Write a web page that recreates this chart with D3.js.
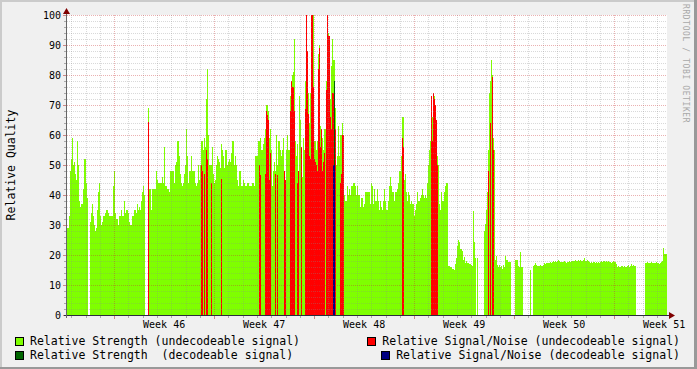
<!DOCTYPE html>
<html><head><meta charset="utf-8">
<script src="https://cdn.jsdelivr.net/npm/d3@7"></script>
<style>body{margin:0;background:#F0F0F0}svg{display:block}text{font-family:"DejaVu Sans Mono",monospace;white-space:pre}</style>
</head><body><svg id="c" width="697" height="369"></svg>
<script>
// ---------------- data ----------------
const weekLabels = ["Week 46","Week 47","Week 48","Week 49","Week 50","Week 51"];
const yTickValues = [0,10,20,30,40,50,60,70,80,90,100];
const spanDays = 42;          // 6 weeks shown
const colDays = 0.07;         // one sample column = 1/600 of the span
const firstWeekStartDay = 3.3; // Monday of week 46, days after the left edge
const strengthUndecodeable = [
29,29,33,48,52,59,50,51,47,45,
58,50,38,36,37,37,42,52,52,44,
39,null,null,31,34,37,33,30,28,29,
35,41,44,33,30,31,33,33,34,35,
35,34,33,33,33,33,43,48,34,32,
32,30,33,33,35,33,33,38,34,35,
35,34,31,30,30,33,33,35,35,34,
37,35,36,35,38,41,43,40,null,null,
null,69,42,42,35,42,42,42,42,48,
45,44,44,44,44,46,44,56,43,43,
42,42,41,48,48,48,48,44,50,51,
58,58,53,47,44,43,44,47,50,62,
53,44,48,48,53,48,48,48,44,43,
44,50,45,50,58,58,55,59,56,72,
82,60,50,50,50,56,47,44,45,50,
53,52,51,49,57,55,53,49,55,55,
50,51,52,51,54,58,58,50,53,50,
45,43,48,48,43,43,45,44,43,43,
44,44,43,43,43,44,44,43,53,53,
53,58,58,59,55,55,57,59,62,70,
70,68,59,62,55,43,48,51,48,60,
50,58,58,55,53,55,59,48,45,55,
60,55,55,73,78,80,81,92,58,53,
57,48,73,65,56,46,59,55,78,100,
88,74,64,74,100,100,100,58,58,55,
58,87,90,63,62,59,55,62,62,78,
100,94,93,72,83,92,85,85,69,50,
53,63,53,60,60,64,60,40,38,38,
43,40,42,40,43,43,44,44,43,40,
43,40,40,36,39,39,36,37,41,41,
41,41,41,37,44,43,37,42,38,38,
42,38,35,38,36,35,38,42,38,35,
35,38,43,46,43,41,41,38,41,41,
42,44,48,48,53,66,66,45,47,41,
38,41,40,37,38,37,37,33,35,37,
41,38,38,39,40,42,40,39,40,39,
44,50,55,58,73,66,74,73,70,65,
53,50,37,35,41,38,38,41,43,44,
44,16.5,16.5,16,16,15.5,15.5,15,17,19,
23,25,24.5,22,22,21.5,18.5,19.5,17.5,18,
17.5,17.5,17,17,16.8,16.5,34.7,24.5,19,null,
19,null,null,null,null,null,null,28,30.5,35,
41,55,74,78,85,80,59,55,18.5,19.7,
16.7,16,16.7,16,16.2,15.5,16.7,16,19.7,18.5,
18.3,17.8,17.8,17.8,null,null,null,null,18.5,18.3,
18.3,16.5,16,21,16,16,null,null,null,null,
null,null,null,15,null,null,16.3,16.8,17.4,16.8,
16.5,16.2,16.5,16.8,16.3,16.5,16.8,17.4,16.9,17.2,
17.3,17.5,17.2,17.8,17.5,17.8,18,17.6,18.1,17.8,
17.9,18.3,17.9,17.6,17.8,17.8,17.6,17.9,17.8,17.5,
17.8,17.8,18.1,17.8,18.1,18.1,18.1,18.1,18.2,18.1,
18.1,18.2,18.1,18.3,18.1,18.1,18.4,18.9,18.1,18,
18.4,18,17.8,17.5,17.8,17.4,17.6,17.8,17.4,17.6,
17.5,17.6,17.5,17.8,17.9,17.6,17.9,18.1,17.8,17.9,
17.7,18,17.8,17.6,17.4,17.8,17.9,17.7,17.6,16.9,
16.1,16.2,16.1,16.1,16.3,16.2,16.1,16.3,16.1,16,
16.2,16.7,16.1,16.3,16.9,16.3,16.7,16.5,16.3,null,
null,null,null,null,null,null,null,null,17.4,17.4,
17.6,17.4,17.2,17.4,17.6,17.4,17.5,17.2,17.4,17.8,
17.3,17.3,17.1,17.2,17.7,18,22.4,20.3,20.3,20.3
];
// [column, value] — only columns where the series is present
const snUndecodeable = [
[81,64.5],[134,50],[135,48],[137,47],[139,55],[140,52],[144,44],[154,45.5],
[192,50],[193,46.7],[198,47],[199,68],[200,66.7],[201,65],[202,45],[203,54],[208,47],[210,46.7],[217,48],[218,45],
[223,68],[224,78],[225,76],[226,76],[227,68],[230,44],[231,48],[234,56],
[238,68.7],[239,100],[240,88],[241,67],[242,53],[243,52],[244,100],[245,100],[246,76],[247,52],[248,51],[249,50],[250,48],[251,82],[252,89],[253,56],[254,62],[255,48],[256,51],[257,54],
[259,75],[260,100],[261,93],[262,93],[263,66],[264,62],[265,74],[266,74],[268,62],
[273,44],[274,47],[275,60],[276,60],
[335,59],[336,56],
[364,73],[365,58],[366,74],[367,72],[368,70],[369,65],[370,50],
[421,48],[423,64],[425,79.5],[426,55]
];
const strengthDecodeable = [[267,78]];
const snDecodeable = [[266,50],[267,50]];
const legendNames = [
  "Relative Strength (undecodeable signal)",
  "Relative Strength  (decodeable signal)",
  "Relative Signal/Noise (undecodeable signal)",
  "Relative Signal/Noise (decodeable signal)"
];
const colors = {strU:"#7FFF00", strD:"#006600", snU:"#FF0000", snD:"#000080"};

// ---------------- drawing ----------------
const W = 697, H = 369;
const svg = d3.select("#c");
const x = d3.scaleLinear().domain([0, spanDays]).range([67, 667]);
const y = d3.scaleLinear().domain([0, 100]).range([315, 15]);

svg.append("rect").attr("width", W).attr("height", H).attr("fill", "#F0F0F0");
// shaded frame
const fr = svg.append("g").attr("shape-rendering","crispEdges");
fr.append("rect").attr("x",0).attr("y",0).attr("width",W).attr("height",2).attr("fill","#CBCBCB");
fr.append("rect").attr("x",0).attr("y",0).attr("width",2).attr("height",H).attr("fill","#CBCBCB");
fr.append("rect").attr("x",0).attr("y",H-2).attr("width",W).attr("height",2).attr("fill","#999999");
fr.append("rect").attr("x",W-3).attr("y",0).attr("width",3).attr("height",H).attr("fill","#999999");

svg.append("rect").attr("x", 67).attr("y", 15).attr("width", 600).attr("height", 300)
  .attr("fill", "#FFFFFF").attr("shape-rendering","crispEdges");

function drawBars(pairs, color) {
  svg.append("g").attr("shape-rendering", "crispEdges")
    .selectAll("rect").data(pairs.filter(d => d[1] != null && d[1] > 0)).join("rect")
    .attr("x", d => x(d[0] * colDays))
    .attr("width", d => x((d[0] + 1) * colDays) - x(d[0] * colDays))
    .attr("y", d => y(d[1]))
    .attr("height", d => y(0) - y(d[1]))
    .attr("fill", color);
}
drawBars(strengthUndecodeable.map((v, i) => [i, v]), colors.strU);
drawBars(snUndecodeable, colors.snU);
drawBars(strengthDecodeable, colors.strD);
drawBars(snDecodeable, colors.snD);

// grid (over the data, like rrdtool)
const minorCol = "rgba(140,140,140,0.33)", majorCol = "rgba(200,50,50,0.38)";
const grid = svg.append("g").attr("shape-rendering","crispEdges").attr("stroke-dasharray","1,1").attr("fill","none");
const hMinor = d3.range(2, 100, 2).filter(v => v % 10 !== 0);
const hMajor = yTickValues.filter(v => v > 0);
grid.selectAll(".hm").data(hMinor).join("line")
  .attr("x1", 67).attr("x2", 667)
  .attr("y1", v => Math.round(y(v)) + 0.5).attr("y2", v => Math.round(y(v)) + 0.5)
  .attr("stroke", minorCol);
const weekStarts = d3.range(0, 6).map(k => firstWeekStartDay + 7 * k);
const dayLines = d3.range(-3, 39).map(j => firstWeekStartDay + j)
  .filter(d => d > 0 && d < spanDays && !weekStarts.some(w => Math.abs(w - d) < 1e-6));
grid.selectAll(".vm").data(dayLines).join("line")
  .attr("x1", d => Math.round(x(d)) + 0.5).attr("x2", d => Math.round(x(d)) + 0.5)
  .attr("y1", 15).attr("y2", 315).attr("stroke", minorCol);
grid.selectAll(".hM").data(hMajor).join("line")
  .attr("x1", 67).attr("x2", 667)
  .attr("y1", v => Math.round(y(v)) + 0.5).attr("y2", v => Math.round(y(v)) + 0.5)
  .attr("stroke", majorCol);
grid.selectAll(".vM").data(weekStarts).join("line")
  .attr("x1", d => Math.round(x(d)) + 0.5).attr("x2", d => Math.round(x(d)) + 0.5)
  .attr("y1", 15).attr("y2", 315).attr("stroke", majorCol);

// ticks on axes
const tk = svg.append("g").attr("shape-rendering","crispEdges");
tk.selectAll(".ytm").data(hMinor).join("line")
  .attr("x1", 64).attr("x2", 66).attr("y1", v => Math.round(y(v)) + 0.5).attr("y2", v => Math.round(y(v)) + 0.5)
  .attr("stroke", "#AAA");
tk.selectAll(".ytM").data(yTickValues).join("line")
  .attr("x1", 63).attr("x2", 66).attr("y1", v => Math.round(y(v)) + 0.5).attr("y2", v => Math.round(y(v)) + 0.5)
  .attr("stroke", "#C88");
tk.selectAll(".xtm").data(dayLines).join("line")
  .attr("x1", d => Math.round(x(d)) + 0.5).attr("x2", d => Math.round(x(d)) + 0.5)
  .attr("y1", 316).attr("y2", 318).attr("stroke", "#AAA");
tk.selectAll(".xtM").data(weekStarts).join("line")
  .attr("x1", d => Math.round(x(d)) + 0.5).attr("x2", d => Math.round(x(d)) + 0.5)
  .attr("y1", 316).attr("y2", 319).attr("stroke", "#C88");

// axes lines + arrows
const ax = svg.append("g").attr("shape-rendering","crispEdges");
ax.append("line").attr("x1", 64).attr("x2", 670).attr("y1", 315.5).attr("y2", 315.5).attr("stroke", "#2C2C3C");
ax.append("line").attr("x1", 66.5).attr("x2", 66.5).attr("y1", 12).attr("y2", 318).attr("stroke", "#666");
svg.append("path").attr("d", "M63,14 L70,14 L66.5,8 Z").attr("fill", "#7F0000");
svg.append("path").attr("d", "M669,312 L669,319 L675,315.5 Z").attr("fill", "#7F0000");

// y tick labels
svg.append("g").selectAll("text").data(yTickValues).join("text")
  .attr("x", 61).attr("y", v => y(v)).attr("dy", "0.36em")
  .attr("text-anchor", "end").attr("font-size", "10px").attr("fill", "#000")
  .text(v => v);
// week labels
svg.append("g").selectAll("text").data(weekLabels).join("text")
  .attr("x", (d, k) => x(firstWeekStartDay + 3.5 + 7 * k)).attr("y", 328)
  .attr("text-anchor", "middle").attr("font-size", "10px").attr("fill", "#000")
  .text(d => d);

// y axis title
svg.append("text").attr("transform", "translate(14.5,165) rotate(-90)")
  .attr("text-anchor", "middle").attr("font-size", "11.5px").attr("fill", "#000")
  .text("Relative Quality");

// watermark
svg.append("text").attr("transform", "translate(683,4) rotate(90)")
  .attr("font-size", "8px").attr("fill", "#A8A8A8").attr("letter-spacing", "0.6px")
  .text("RRDTOOL / TOBI OETIKER");

// legend
const legendItems = [
  {name: legendNames[0], color: colors.strU, side: "left", row: 0},
  {name: legendNames[1], color: colors.strD, side: "left", row: 1},
  {name: legendNames[2], color: colors.snU, side: "right", row: 0},
  {name: legendNames[3], color: colors.snD, side: "right", row: 1}
];
const lg = svg.append("g");
legendItems.forEach(it => {
  const baseY = 344.5 + it.row * 14.5;
  const t = lg.append("text").attr("font-size", "11.5px").attr("fill", "#000")
    .attr("xml:space", "preserve").attr("y", baseY).text(it.name);
  let tx;
  if (it.side === "left") { tx = 30; t.attr("x", tx); }
  else { t.attr("x", 680).attr("text-anchor", "end"); tx = 680 - t.node().getComputedTextLength(); }
  lg.append("rect").attr("x", Math.round(tx - 15) + 0.5).attr("y", Math.round(baseY - 8) + 0.5)
    .attr("width", 8).attr("height", 8).attr("fill", it.color).attr("stroke", "#000")
    .attr("shape-rendering","crispEdges");
});
</script></body></html>
